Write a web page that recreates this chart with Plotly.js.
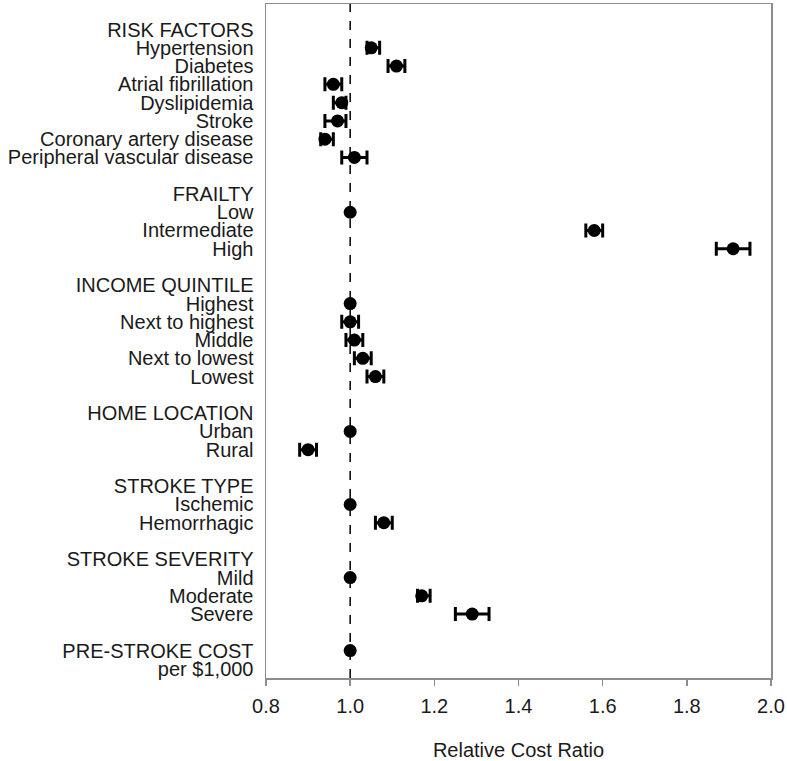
<!DOCTYPE html>
<html>
<head>
<meta charset="utf-8">
<script src="https://cdn.plot.ly/plotly-3.0.1.min.js"></script>
<style>html,body{margin:0;padding:0;background:#fff;}#chart{width:787px;height:761px;}</style>
</head>
<body>
<div id="chart"></div>
<script>
// Row labels (top to bottom); empty strings are spacer rows
const rowLabels = [
  "RISK FACTORS", "Hypertension", "Diabetes", "Atrial fibrillation", "Dyslipidemia",
  "Stroke", "Coronary artery disease", "Peripheral vascular disease", "",
  "FRAILTY", "Low", "Intermediate", "High", "",
  "INCOME QUINTILE", "Highest", "Next to highest", "Middle", "Next to lowest", "Lowest", "",
  "HOME LOCATION", "Urban", "Rural", "",
  "STROKE TYPE", "Ischemic", "Hemorrhagic", "",
  "STROKE SEVERITY", "Mild", "Moderate", "Severe", "",
  "PRE-STROKE COST", "per $1,000"
];

// Estimates (row in which each point sits, by label)
const pointRows = [
  "Hypertension", "Diabetes", "Atrial fibrillation", "Dyslipidemia", "Stroke",
  "Coronary artery disease", "Peripheral vascular disease",
  "Low", "Intermediate", "High",
  "Highest", "Next to highest", "Middle", "Next to lowest", "Lowest",
  "Urban", "Rural",
  "Ischemic", "Hemorrhagic",
  "Mild", "Moderate", "Severe",
  "PRE-STROKE COST"
];
const ratio = [1.05, 1.11, 0.96, 0.98, 0.97, 0.94, 1.01,
               1.00, 1.58, 1.91,
               1.00, 1.00, 1.01, 1.03, 1.06,
               1.00, 0.90,
               1.00, 1.08,
               1.00, 1.17, 1.29,
               1.00];
const ciLow = [1.04, 1.09, 0.94, 0.96, 0.94, 0.93, 0.98,
               null, 1.56, 1.87,
               null, 0.98, 0.99, 1.01, 1.04,
               null, 0.88,
               null, 1.06,
               null, 1.16, 1.25,
               null];
const ciHigh = [1.07, 1.13, 0.98, 0.99, 0.99, 0.96, 1.04,
                null, 1.60, 1.95,
                null, 1.02, 1.03, 1.05, 1.08,
                null, 0.92,
                null, 1.10,
                null, 1.19, 1.33,
                null];

const xTicks = [0.8, 1.0, 1.2, 1.4, 1.6, 1.8, 2.0];
const xTickText = ["0.8", "1.0", "1.2", "1.4", "1.6", "1.8", "2.0"];

const yIdx = pointRows.map(l => rowLabels.indexOf(l));
const errPlus = ratio.map((v, i) => ciHigh[i] == null ? NaN : ciHigh[i] - v);
const errMinus = ratio.map((v, i) => ciLow[i] == null ? NaN : v - ciLow[i]);

const FONT = "Liberation Sans, Arial, Helvetica, sans-serif";
const TXT = "#1a1a1a";

const trace = {
  type: "scatter",
  mode: "markers",
  x: ratio,
  y: yIdx,
  marker: {color: "#000", size: 13},
  error_x: {
    type: "data", symmetric: false,
    array: errPlus, arrayminus: errMinus,
    color: "#000", thickness: 3, width: 7
  },
  hoverinfo: "x+y",
  showlegend: false
};

const layout = {
  width: 787, height: 761,
  margin: {l: 266, r: 16, t: 4, b: 83},
  paper_bgcolor: "#fff", plot_bgcolor: "#fff",
  font: {family: FONT, color: TXT, size: 20},
  xaxis: {
    range: [0.8, 2.0],
    tickvals: xTicks, ticktext: xTickText,
    ticks: "outside", ticklen: 6, tickwidth: 1.5, tickcolor: "#8c8c8c",
    ticklabelstandoff: 3,
    showline: true, mirror: true, linecolor: "#8c8c8c", linewidth: 1.5,
    showgrid: false, zeroline: false,
    tickfont: {family: FONT, size: 20, color: TXT},
    title: {text: "Relative Cost Ratio", font: {family: FONT, size: 20, color: TXT}, standoff: 28},
    automargin: false
  },
  yaxis: {
    range: [35.5, -1.4],
    tickvals: rowLabels.map((_, i) => i),
    ticktext: rowLabels,
    ticks: "", ticklabelstandoff: 7,
    showline: true, mirror: true, linecolor: "#8c8c8c", linewidth: 1.5,
    showgrid: false, zeroline: false,
    tickfont: {family: FONT, size: 20, color: TXT},
    automargin: false
  },
  shapes: [{
    type: "line", xref: "x", yref: "paper",
    x0: 1.0, x1: 1.0, y0: 0, y1: 1,
    line: {color: "#000", width: 1.5, dash: "dash"},
    layer: "below"
  }]
};

Plotly.newPlot("chart", [trace], layout, {displayModeBar: false, staticPlot: true});
</script>
</body>
</html>
